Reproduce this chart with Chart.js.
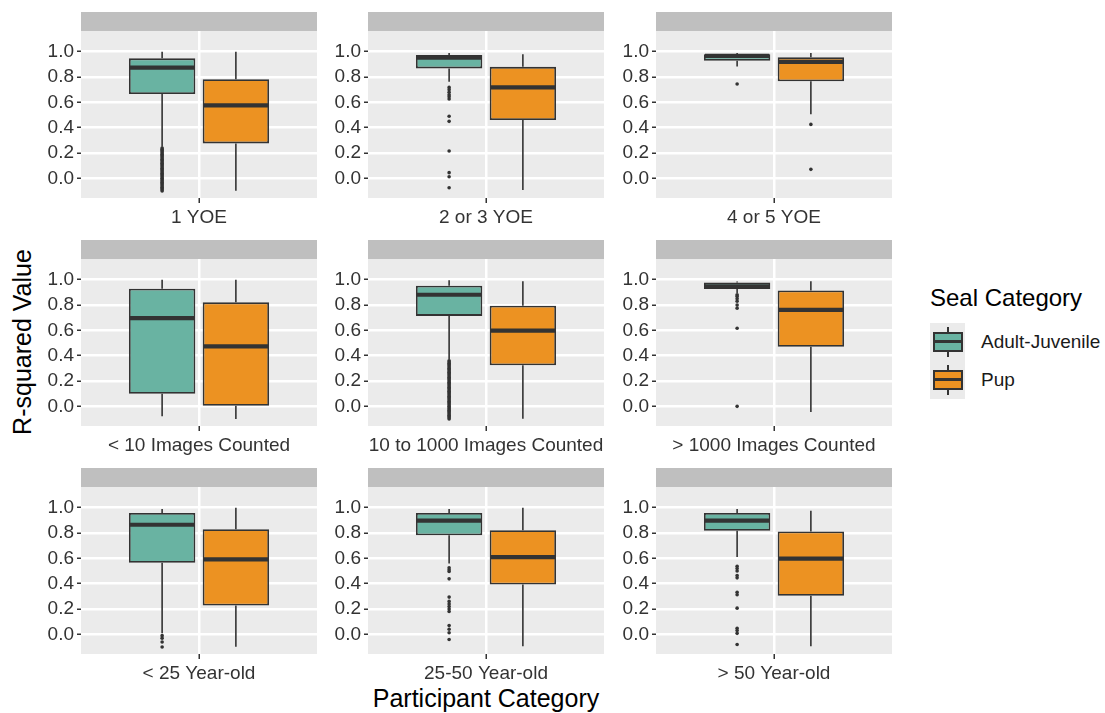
<!DOCTYPE html>
<html lang="en">
<head>
<meta charset="UTF-8" />
<title>R-squared Value by Participant Category</title>
<script src="https://cdn.jsdelivr.net/npm/chart.js"></script>
<style>
  body { margin: 0; background: #fff; font-family: "Liberation Sans", Arial, sans-serif; }
  #page { position: relative; width: 1105px; height: 713px; overflow: hidden; }
  .panel { position: absolute; }
  .ytitle { position: absolute; left: 22px; top: 342px; transform: translate(-50%, -50%) rotate(-90deg); font-size: 25px; white-space: nowrap; }
  .xtitle { position: absolute; left: 486px; top: 698px; transform: translate(-50%, -50%); font-size: 25px; white-space: nowrap; }
  .legend { position: absolute; left: 930px; top: 284px; }
  .legend-title { font-size: 24px; line-height: 28px; margin-bottom: 11px; }
  .legend-row { display: flex; align-items: center; height: 38px; }
  .key { position: relative; width: 35px; height: 38px; background: #ebebeb; }
  .key .wh { position: absolute; left: 17px; top: 4px; width: 1.5px; height: 30px; background: #333; }
  .key .bx { position: absolute; left: 3px; top: 9px; width: 26px; height: 16px; border: 2px solid #333; }
  .key .md { position: absolute; left: 3px; top: 17px; width: 30px; height: 3px; background: #333; }
  .legend-label { font-size: 19px; margin-left: 16px; color: #1a1a1a; }
</style>
</head>
<body>
<div id="page">
  <div class="ytitle">R-squared Value</div>
  <div class="xtitle">Participant Category</div>
  <div class="legend">
    <div class="legend-title">Seal Category</div>
    <div class="legend-row">
      <div class="key"><div class="wh"></div><div class="bx" style="background:#69b3a2"></div><div class="md"></div></div>
      <span class="legend-label">Adult-Juvenile</span>
    </div>
    <div class="legend-row">
      <div class="key"><div class="wh"></div><div class="bx" style="background:#ec9222"></div><div class="md"></div></div>
      <span class="legend-label">Pup</span>
    </div>
  </div>
</div>

<script>
// ---- data ----
const panelLabels = ["1 YOE", "2 or 3 YOE", "4 or 5 YOE",
  "< 10 Images Counted", "10 to 1000 Images Counted", "> 1000 Images Counted",
  "< 25 Year-old", "25-50 Year-old", "> 50 Year-old"];
const seriesNames = ["Adult-Juvenile", "Pup"];
const yTicks = [0.0, 0.2, 0.4, 0.6, 0.8, 1.0];

// [lower whisker, Q1, median, Q3, upper whisker]
const adultStats = [
  [0.25, 0.666, 0.874, 0.947, 1.0],
  [0.763, 0.868, 0.953, 0.974, 0.99],
  [0.882, 0.929, 0.966, 0.979, 0.99],
  [-0.079, 0.10, 0.697, 0.929, 1.0],
  [0.37, 0.714, 0.881, 0.952, 0.995],
  [0.894, 0.926, 0.947, 0.977, 0.985],
  [0.008, 0.565, 0.865, 0.958, 0.989],
  [0.56, 0.782, 0.897, 0.958, 0.989],
  [0.61, 0.817, 0.897, 0.958, 0.989]
];
const pupStats = [
  [-0.097, 0.276, 0.576, 0.782, 1.0],
  [-0.092, 0.46, 0.718, 0.88, 0.98],
  [0.505, 0.766, 0.92, 0.955, 0.99],
  [-0.1, 0.005, 0.474, 0.821, 1.0],
  [-0.098, 0.325, 0.598, 0.794, 0.987],
  [-0.045, 0.471, 0.762, 0.915, 0.987],
  [-0.098, 0.228, 0.592, 0.83, 1.0],
  [-0.093, 0.393, 0.61, 0.822, 1.0],
  [-0.093, 0.305, 0.597, 0.812, 0.976]
];
const adultOutliers = [
  [0.24, 0.23, 0.22, 0.21, 0.20, 0.19, 0.18, 0.17, 0.16, 0.15, 0.14, 0.13, 0.12, 0.11, 0.10, 0.09, 0.08, 0.07,
   0.06, 0.05, 0.04, 0.03, 0.02, 0.01, 0.00, -0.01, -0.02, -0.03, -0.04, -0.05, -0.06, -0.07, -0.08, -0.09, -0.10],
  [0.718, 0.70, 0.68, 0.66, 0.645, 0.626, 0.49, 0.45, 0.216, 0.045, 0.013, -0.074],
  [0.745],
  [],
  [0.36, 0.35, 0.34, 0.33, 0.32, 0.31, 0.30, 0.29, 0.28, 0.27, 0.26, 0.25, 0.24, 0.23, 0.22, 0.21, 0.20, 0.19,
   0.18, 0.17, 0.16, 0.15, 0.14, 0.13, 0.12, 0.11, 0.10, 0.09, 0.08, 0.07, 0.06, 0.05, 0.04, 0.03, 0.02, 0.01,
   0.00, -0.01, -0.02, -0.03, -0.04, -0.05, -0.06, -0.07, -0.08, -0.09, -0.10],
  [0.881, 0.87, 0.85, 0.83, 0.80, 0.775, 0.616, 0.0],
  [-0.01, -0.03, -0.06, -0.10],
  [0.525, 0.51, 0.496, 0.438, 0.294, 0.26, 0.24, 0.22, 0.20, 0.18, 0.069, 0.04, 0.013, -0.04],
  [0.538, 0.52, 0.50, 0.464, 0.446, 0.332, 0.313, 0.207, 0.048, 0.03, 0.008, -0.08]
];
const pupOutliers = [[], [], [0.426, 0.071], [], [], [], [], [], []];

// ---- layout ----
const colors = ["#69b3a2", "#ec9222"];
const panelLeft = [81, 368, 656];
const rowTop = [12, 240, 468];
const PANEL_W = 236, PLOT_H = 167, STRIP_H = 19;
const Y_AXIS_W = 60, X_AXIS_H = 40, PAD_R = 20;
const Y_MIN = -0.155, Y_MAX = 1.163;
const tickFont = { family: "Liberation Sans", size: 19 };

const boxPlugin = {
  id: "boxplot",
  beforeDraw(chart) {
    const { ctx, chartArea: a } = chart;
    ctx.save();
    ctx.fillStyle = "#bfbfbf";
    ctx.fillRect(a.left, a.top - STRIP_H, a.right - a.left, STRIP_H);
    ctx.fillStyle = "#ebebeb";
    ctx.fillRect(a.left, a.top, a.right - a.left, a.bottom - a.top);
    ctx.restore();
  },
  afterDatasetsDraw(chart) {
    const { ctx } = chart;
    const y = chart.scales.y;
    ctx.save();
    chart.data.datasets.forEach((ds, i) => {
      const el = chart.getDatasetMeta(i).data[0];
      const [lo, q1, med, q3, hi] = ds.stats;
      const x = el.x, w = el.width;
      ctx.strokeStyle = "#333";
      ctx.lineWidth = 1.6;
      ctx.beginPath();
      ctx.moveTo(x, y.getPixelForValue(q3)); ctx.lineTo(x, y.getPixelForValue(hi));
      ctx.moveTo(x, y.getPixelForValue(q1)); ctx.lineTo(x, y.getPixelForValue(lo));
      ctx.stroke();
      ctx.lineWidth = 4.2;
      ctx.beginPath();
      ctx.moveTo(x - w / 2 + 1, y.getPixelForValue(med));
      ctx.lineTo(x + w / 2 - 1, y.getPixelForValue(med));
      ctx.stroke();
      ctx.fillStyle = "#333";
      ds.outliers.forEach(v => {
        ctx.beginPath();
        ctx.arc(x, y.getPixelForValue(v), 1.8, 0, Math.PI * 2);
        ctx.fill();
      });
    });
    ctx.restore();
  }
};

const page = document.getElementById("page");

panelLabels.forEach((label, p) => {
  const col = p % 3, row = Math.floor(p / 3);
  const canvas = document.createElement("canvas");
  canvas.className = "panel";
  canvas.width = Y_AXIS_W + PANEL_W + PAD_R;
  canvas.height = STRIP_H + PLOT_H + X_AXIS_H;
  canvas.style.left = (panelLeft[col] - Y_AXIS_W) + "px";
  canvas.style.top = rowTop[row] + "px";
  page.appendChild(canvas);

  new Chart(canvas, {
    type: "bar",
    data: {
      labels: [label],
      datasets: [
        { label: seriesNames[0], data: [[adultStats[p][1], adultStats[p][3]]], backgroundColor: colors[0],
          stats: adultStats[p], outliers: adultOutliers[p] },
        { label: seriesNames[1], data: [[pupStats[p][1], pupStats[p][3]]], backgroundColor: colors[1],
          stats: pupStats[p], outliers: pupOutliers[p] }
      ]
    },
    options: {
      responsive: false,
      animation: false,
      layout: { padding: { top: STRIP_H, right: PAD_R, left: 0, bottom: 0 } },
      plugins: { legend: { display: false }, tooltip: { enabled: false } },
      datasets: {
        bar: { categoryPercentage: 0.625, barPercentage: 0.9, borderSkipped: false, borderWidth: 1.8, borderColor: "#333" }
      },
      scales: {
        x: {
          grid: { offset: false, color: "#fff", lineWidth: 2.5, tickColor: "#333", tickLength: 5, tickWidth: 1.5 },
          border: { display: false },
          ticks: { color: "#333", font: tickFont, padding: 3, maxRotation: 0, autoSkip: false },
          afterFit: s => { s.height = X_AXIS_H; }
        },
        y: {
          min: Y_MIN,
          max: Y_MAX,
          afterBuildTicks: s => { s.ticks = yTicks.map(v => ({ value: v })); },
          grid: { color: "#fff", lineWidth: 2.5, tickColor: "#333", tickLength: 4, tickWidth: 1.5 },
          border: { display: false },
          ticks: { color: "#333", font: tickFont, padding: 3, callback: v => Number(v).toFixed(1) },
          afterFit: s => { s.width = Y_AXIS_W; }
        }
      }
    },
    plugins: [boxPlugin]
  });
});
</script>
</body>
</html>
